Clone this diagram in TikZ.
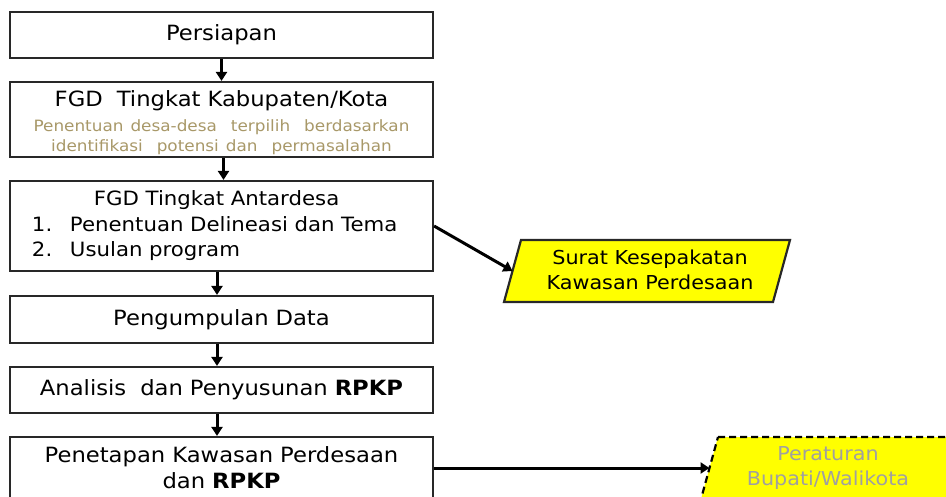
\documentclass[tikz,border=0pt]{standalone}
\usepackage{fontspec}
\setmainfont{DejaVu Sans}[FakeStretch=1.08]
\usetikzlibrary{arrows.meta}
\definecolor{subtan}{RGB}{168,152,104}
\definecolor{pgray}{RGB}{160,160,160}
\definecolor{bxline}{RGB}{40,40,40}
\definecolor{yel}{RGB}{255,255,0}
\newcommand\mainsize{\fontsize{21}{26}\selectfont}
\newcommand\midsize{\fontsize{19.7}{25.5}\selectfont}
\newcommand\subsize{\fontsize{15.6}{20}\selectfont}
\newcommand\parsize{\fontsize{19.2}{25}\selectfont}
\begin{document}
\begin{tikzpicture}[x=1pt,y=-1pt,
  stepbox/.style={draw=bxline, line width=2.2pt, minimum width=423pt, text width=415pt,
    inner xsep=4pt, inner ysep=0pt, align=center, font=\mainsize},
  arr/.style={line width=3pt, -{Triangle[length=9pt,width=11pt]}},
  para/.style={fill=yel, draw=bxline, line width=2.2pt, line join=miter},
  ptext/.style={align=center, font=\parsize, inner sep=0pt}]
\useasboundingbox (0,0) rectangle (946,496);
\clip (0,0) rectangle (946,496);

\node[stepbox, minimum height=75pt] (p2) at (221.5,119.5)
  {\rule{0pt}{22pt}FGD\ \ Tingkat Kabupaten/Kota\par\vspace{5pt}{\subsize\color{subtan}Penentuan desa-desa\ \ terpilih\ \ berdasarkan\\identifikasi\ \ potensi dan\ \ permasalahan\par}};
\node[stepbox, minimum height=46pt] (p1) at (221.5,35) {Persiapan};
\node[stepbox, minimum height=90pt, font=\midsize, align=left] (p3) at (221.5,226)
  {\hspace*{80pt}FGD Tingkat Antardesa\\
   \hspace*{18pt}\makebox[38pt][l]{1.}Penentuan Delineasi dan Tema\\
   \hspace*{18pt}\makebox[38pt][l]{2.}Usulan program};
\node[stepbox, minimum height=47pt] (p4) at (221.5,319.5) {Pengumpulan Data};
\node[stepbox, minimum height=46pt] (p5) at (221.5,390) {Analisis\ \ dan Penyusunan \textbf{RPKP}};
\node[stepbox, minimum height=62pt] (p6) at (221.5,468) {Penetapan Kawasan Perdesaan\\dan \textbf{RPKP}};

% Surat Kesepakatan parallelogram
\draw[para] (521,240) -- (790,240) -- (773,302) -- (504,302) -- cycle;
\coordinate (skw) at (512.5,271);
\node[ptext] (sk) at (650,270) {Surat Kesepakatan\\Kawasan Perdesaan};

% Peraturan parallelogram (dashed)
\draw[para, dash pattern=on 7pt off 4pt, draw=black] (718,437) -- (980,437) -- (963,499) -- (701,499) -- cycle;
\coordinate (pw) at (709.5,468);
\node[ptext, text=pgray] (pb) at (828,468) {Peraturan\\Bupati/Walikota};

\draw[arr] (p1.south) -- (p2.north);
\draw[arr] ([xshift=2pt]p2.south) -- ([xshift=2pt]p3.north);
\draw[arr] ([xshift=-4.5pt]p3.south) -- ([xshift=-4.5pt]p4.north);
\draw[arr] ([xshift=-4.5pt]p4.south) -- ([xshift=-4.5pt]p5.north);
\draw[arr] ([xshift=-4.5pt]p5.south) -- ([xshift=-4.5pt]p6.north);
\draw[arr] (p3.east) -- (skw);
\draw[arr] (p6.east) -- (pw);
\end{tikzpicture}
\end{document}
